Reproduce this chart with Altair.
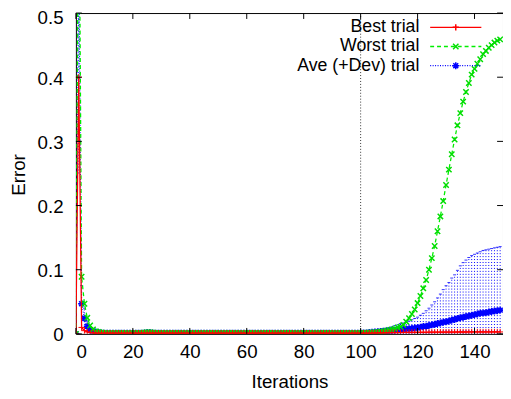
import altair as alt
import pandas as pd

# ---------------- data ----------------
iterations = list(range(150))

best = [
    0.0, 0.40, 0.010, 0.005, 0.003, 0.002, 0.0015, 0.001, 0.001, 0.001,
    0.001, 0.001, 0.001, 0.001, 0.001, 0.001, 0.001, 0.001, 0.001, 0.001,
    0.001, 0.001, 0.001, 0.001, 0.001, 0.001, 0.001, 0.001, 0.001, 0.001,
    0.001, 0.001, 0.001, 0.001, 0.001, 0.001, 0.001, 0.001, 0.001, 0.001,
    0.001, 0.001, 0.001, 0.001, 0.001, 0.001, 0.001, 0.001, 0.001, 0.001,
    0.001, 0.001, 0.001, 0.001, 0.001, 0.001, 0.001, 0.001, 0.001, 0.001,
    0.001, 0.001, 0.001, 0.001, 0.001, 0.001, 0.001, 0.001, 0.001, 0.001,
    0.001, 0.001, 0.001, 0.001, 0.001, 0.001, 0.001, 0.001, 0.001, 0.001,
    0.001, 0.001, 0.001, 0.001, 0.001, 0.001, 0.001, 0.001, 0.001, 0.001,
    0.001, 0.001, 0.001, 0.001, 0.001, 0.001, 0.001, 0.001, 0.001, 0.001,
    0.001, 0.001, 0.001, 0.001, 0.0012, 0.0013, 0.0014, 0.0015, 0.0016, 0.0017,
    0.0018, 0.0019, 0.002, 0.002, 0.0021, 0.0022, 0.0022, 0.0023, 0.0023, 0.0024,
    0.0024, 0.0025, 0.0025, 0.0025, 0.0026, 0.0026, 0.0026, 0.0027, 0.0027, 0.0027,
    0.0028, 0.0028, 0.0028, 0.0028, 0.0029, 0.0029, 0.0029, 0.0029, 0.003, 0.003,
    0.003, 0.003, 0.003, 0.003, 0.003, 0.003, 0.003, 0.003, 0.003, 0.003,
]

worst = [
    0.0, 0.80, 0.089, 0.047, 0.025, 0.013, 0.007, 0.004, 0.003, 0.002,
    0.0015, 0.0015, 0.0015, 0.0015, 0.0015, 0.0015, 0.0015, 0.0015, 0.0015, 0.0015,
    0.0015, 0.0015, 0.0015, 0.0015, 0.002, 0.0025, 0.0025, 0.002, 0.0015, 0.0015,
    0.0015, 0.0015, 0.0015, 0.0015, 0.0015, 0.0015, 0.0015, 0.0015, 0.0015, 0.0015,
    0.0015, 0.0015, 0.0015, 0.0015, 0.0015, 0.0015, 0.0015, 0.0015, 0.0015, 0.0015,
    0.0015, 0.0015, 0.0015, 0.0015, 0.0015, 0.0015, 0.0015, 0.0015, 0.0015, 0.0015,
    0.0015, 0.0015, 0.0015, 0.0015, 0.0015, 0.0015, 0.0015, 0.0015, 0.0015, 0.0015,
    0.0015, 0.0015, 0.0015, 0.0015, 0.0015, 0.0015, 0.0015, 0.0015, 0.0015, 0.0015,
    0.0015, 0.0015, 0.0015, 0.0015, 0.0015, 0.0015, 0.0015, 0.0015, 0.0015, 0.0015,
    0.0015, 0.0015, 0.0015, 0.0015, 0.0015, 0.0015, 0.0015, 0.0015, 0.0015, 0.0015,
    0.0015, 0.0015, 0.0018, 0.002, 0.002, 0.0025, 0.003, 0.0035, 0.004, 0.005,
    0.006, 0.007, 0.008, 0.010, 0.011, 0.014, 0.019, 0.0245, 0.031, 0.038,
    0.048, 0.059, 0.071, 0.084, 0.100, 0.118, 0.137, 0.160, 0.183, 0.207,
    0.232, 0.256, 0.280, 0.303, 0.325, 0.344, 0.362, 0.377, 0.391, 0.404,
    0.413, 0.421, 0.428, 0.436, 0.441, 0.446, 0.450, 0.454, 0.457, 0.459,
]

ave = [
    0.0, 0.60, 0.047, 0.0245, 0.012, 0.006, 0.004, 0.003, 0.002, 0.0015,
    0.001, 0.001, 0.001, 0.001, 0.001, 0.001, 0.001, 0.001, 0.001, 0.001,
    0.001, 0.001, 0.001, 0.001, 0.0015, 0.002, 0.002, 0.0015, 0.001, 0.001,
    0.001, 0.001, 0.001, 0.001, 0.001, 0.001, 0.001, 0.001, 0.001, 0.001,
    0.001, 0.001, 0.001, 0.001, 0.001, 0.001, 0.001, 0.001, 0.001, 0.001,
    0.001, 0.001, 0.001, 0.001, 0.001, 0.001, 0.001, 0.001, 0.001, 0.001,
    0.001, 0.001, 0.001, 0.001, 0.001, 0.001, 0.001, 0.001, 0.001, 0.001,
    0.001, 0.001, 0.001, 0.001, 0.001, 0.001, 0.001, 0.001, 0.001, 0.001,
    0.001, 0.001, 0.001, 0.001, 0.001, 0.001, 0.001, 0.001, 0.001, 0.001,
    0.001, 0.001, 0.001, 0.001, 0.001, 0.001, 0.001, 0.001, 0.001, 0.001,
    0.001, 0.0012, 0.0015, 0.002, 0.0025, 0.003, 0.0033, 0.0036, 0.004, 0.0042,
    0.0045, 0.005, 0.0055, 0.006, 0.0065, 0.007, 0.0075, 0.008, 0.0085, 0.009,
    0.0095, 0.0105, 0.0115, 0.012, 0.013, 0.014, 0.015, 0.016, 0.017, 0.018,
    0.019, 0.020, 0.0215, 0.0225, 0.024, 0.025, 0.026, 0.027, 0.028, 0.029,
    0.030, 0.031, 0.032, 0.0325, 0.033, 0.034, 0.035, 0.0355, 0.036, 0.037,
]

ave_plus_dev = [
    0.0, 0.95, 0.075, 0.040, 0.020, 0.010, 0.006, 0.004, 0.003, 0.002,
    0.0015, 0.0015, 0.0015, 0.0015, 0.0015, 0.0015, 0.0015, 0.0015, 0.0015, 0.0015,
    0.0015, 0.0015, 0.0015, 0.0015, 0.0025, 0.003, 0.003, 0.0025, 0.0015, 0.0015,
    0.0015, 0.0015, 0.0015, 0.0015, 0.0015, 0.0015, 0.0015, 0.0015, 0.0015, 0.0015,
    0.0015, 0.0015, 0.0015, 0.0015, 0.0015, 0.0015, 0.0015, 0.0015, 0.0015, 0.0015,
    0.0015, 0.0015, 0.0015, 0.0015, 0.0015, 0.0015, 0.0015, 0.0015, 0.0015, 0.0015,
    0.0015, 0.0015, 0.0015, 0.0015, 0.0015, 0.0015, 0.0015, 0.0015, 0.0015, 0.0015,
    0.0015, 0.0015, 0.0015, 0.0015, 0.0015, 0.0015, 0.0015, 0.0015, 0.0015, 0.0015,
    0.0015, 0.0015, 0.0015, 0.0015, 0.0015, 0.0015, 0.0015, 0.0015, 0.0015, 0.0015,
    0.0015, 0.0015, 0.0015, 0.0015, 0.0015, 0.0015, 0.0015, 0.0015, 0.0015, 0.0015,
    0.0015, 0.0015, 0.002, 0.003, 0.004, 0.005, 0.006, 0.007, 0.008, 0.009,
    0.010, 0.011, 0.013, 0.014, 0.016, 0.017, 0.019, 0.020, 0.022, 0.024,
    0.026, 0.029, 0.032, 0.036, 0.040, 0.045, 0.050, 0.056, 0.062, 0.069,
    0.075, 0.080, 0.087, 0.092, 0.099, 0.106, 0.111, 0.115, 0.119, 0.122,
    0.124, 0.126, 0.128, 0.130, 0.131, 0.132, 0.133, 0.134, 0.135, 0.136,
]

x_ticks = [0, 20, 40, 60, 80, 100, 120, 140]
y_ticks = [0, 0.1, 0.2, 0.3, 0.4, 0.5]
marker_iteration = [100]
series_names = ["Best trial", "Worst trial", "Ave (+Dev) trial"]
series_colors = ["#ff0000", "#00dd00", "#0000ff"]

# ---------------- build tables ----------------
df = pd.DataFrame({
    "it": iterations,
    "best": best,
    "worst": worst,
    "ave": ave,
    "upper": ave_plus_dev,
})
df["lower"] = (2 * df["ave"] - df["upper"]).clip(lower=0)

W, H = 434, 326
FONT = "Liberation Sans"
FS = 19

xs = alt.Scale(domain=[0, 150], nice=False, zero=False)
ys = alt.Scale(domain=[0, 0.5], nice=False)

x_axis = alt.Axis(values=x_ticks, labelPadding=9, titleY=49, titleBaseline="middle")
y_axis = alt.Axis(values=y_ticks, format="~g", labelPadding=13,
                  labelOffset=alt.expr("datum.value >= 0.5 ? 5 : 1"),
                  titleX=-58, titleY=H / 2 + 1, titleAngle=270,
                  titleBaseline="middle", titleAlign="center")


def X(field):
    return alt.X(field, scale=xs, axis=x_axis, title="Iterations")


def Y(field):
    return alt.Y(field, scale=ys, axis=y_axis, title="Error")


PLUS = "M-1,0L1,0M0,-1L0,1"
CROSS = "M-1,-1L1,1M-1,1L1,-1"
STAR = "M-1,0L1,0M0,-1L0,1M-0.7,-0.7L0.7,0.7M-0.7,0.7L0.7,-0.7"
CAP = "M-1,0L1,0"

base = alt.Chart(df)

bars = base.mark_rule(color="#0000ff", strokeDash=[1, 2], strokeWidth=1,
                      opacity=1, clip=True).encode(
    x=X("it:Q"), y=Y("lower:Q"), y2="upper:Q")
caps = base.mark_point(shape=CAP, size=9, color="#0000ff", strokeWidth=1,
                       filled=False, opacity=0.8, clip=True).encode(
    x=X("it:Q"), y=Y("upper:Q"))

ave_line = base.mark_line(color="#0000ff", strokeDash=[1, 1.5], strokeWidth=1,
                          clip=True).encode(x=X("it:Q"), y=Y("ave:Q"))
ave_pts = base.mark_point(shape=STAR, size=50, color="#0000ff", strokeWidth=1.6,
                          filled=False, opacity=1, clip=True).encode(
    x=X("it:Q"), y=Y("ave:Q"))

worst_line = base.mark_line(color="#00ee00", strokeDash=[4, 3], strokeWidth=1.3,
                            clip=True).encode(x=X("it:Q"), y=Y("worst:Q"))
worst_pts = base.mark_point(shape=CROSS, size=30, color="#00dd00", strokeWidth=1.5,
                            filled=False, opacity=1, clip=True).encode(
    x=X("it:Q"), y=Y("worst:Q"))

best_line = base.mark_line(color="#ff0000", strokeWidth=1.3, clip=True).encode(
    x=X("it:Q"), y=Y("best:Q"))
best_pts = base.mark_point(shape=PLUS, size=40, color="#ff0000", strokeWidth=1,
                           filled=False, opacity=1, clip=True).encode(
    x=X("it:Q"), y=Y("best:Q"))

vline = alt.Chart(pd.DataFrame({"v": marker_iteration})).mark_rule(
    color="#333333", strokeDash=[1, 2], strokeWidth=1).encode(
    x=X("v:Q"), y=alt.value(0), y2=alt.value(H))

# inward ticks (gnuplot style, mirrored)
xt = pd.DataFrame({"t": x_ticks})
yt = pd.DataFrame({"t": y_ticks})
tick_style = dict(color="black", strokeWidth=1)
xt_bot = alt.Chart(xt).mark_rule(**tick_style).encode(
    x=X("t:Q"), y=alt.value(H), y2=alt.value(H - 6))
xt_top = alt.Chart(xt).mark_rule(**tick_style).encode(
    x=X("t:Q"), y=alt.value(0), y2=alt.value(6))
yt_left = alt.Chart(yt).mark_rule(**tick_style).encode(
    y=Y("t:Q"), x=alt.value(0), x2=alt.value(6))
yt_right = alt.Chart(yt).mark_rule(**tick_style).encode(
    y=Y("t:Q"), x=alt.value(W), x2=alt.value(W - 6))

# legend (gnuplot style: text left, sample right)
one = pd.DataFrame({"a": [0]})
legend_layers = []
rows_y = [14.5, 34, 53.5]
styles = [
    dict(dash=[1, 0], shape=PLUS, size=40, line="#ff0000"),
    dict(dash=[4, 3], shape=CROSS, size=30, line="#00ee00"),
    dict(dash=[1, 1.5], shape=STAR, size=50, line="#0000ff"),
]
for name, col, yy, st in zip(series_names, series_colors, rows_y, styles):
    legend_layers.append(alt.Chart(one).mark_text(
        align="right", baseline="middle", font=FONT, fontSize=18, color="black").encode(
        x=alt.value(349), y=alt.value(yy), text=alt.value(name)))
    legend_layers.append(alt.Chart(one).mark_rule(
        color=st["line"], strokeDash=st["dash"], strokeWidth=1.3).encode(
        x=alt.value(360), x2=alt.value(412), y=alt.value(yy)))
    legend_layers.append(alt.Chart(one).mark_point(
        shape=st["shape"], size=st["size"], color=col, filled=False, strokeWidth=1.5,
        opacity=1).encode(x=alt.value(386), y=alt.value(yy)))

chart = alt.layer(
    bars, caps, ave_line, ave_pts, worst_line, worst_pts, best_line, best_pts,
    vline, xt_bot, xt_top, yt_left, yt_right, *legend_layers
).properties(
    width=W, height=H,
    autosize=alt.AutoSizeParams(type="none"),
    padding={"left": 69, "top": 2, "right": 0, "bottom": 60},
).configure_view(
    stroke="black", strokeWidth=1
).configure_axis(
    labelFont=FONT, labelFontSize=FS, labelColor="black",
    titleFont=FONT, titleFontSize=FS, titleFontWeight="normal", titleColor="black",
    domain=False, ticks=False, grid=False,
)

chart.save("out.html", embed_options={"renderer": "svg", "actions": False})
